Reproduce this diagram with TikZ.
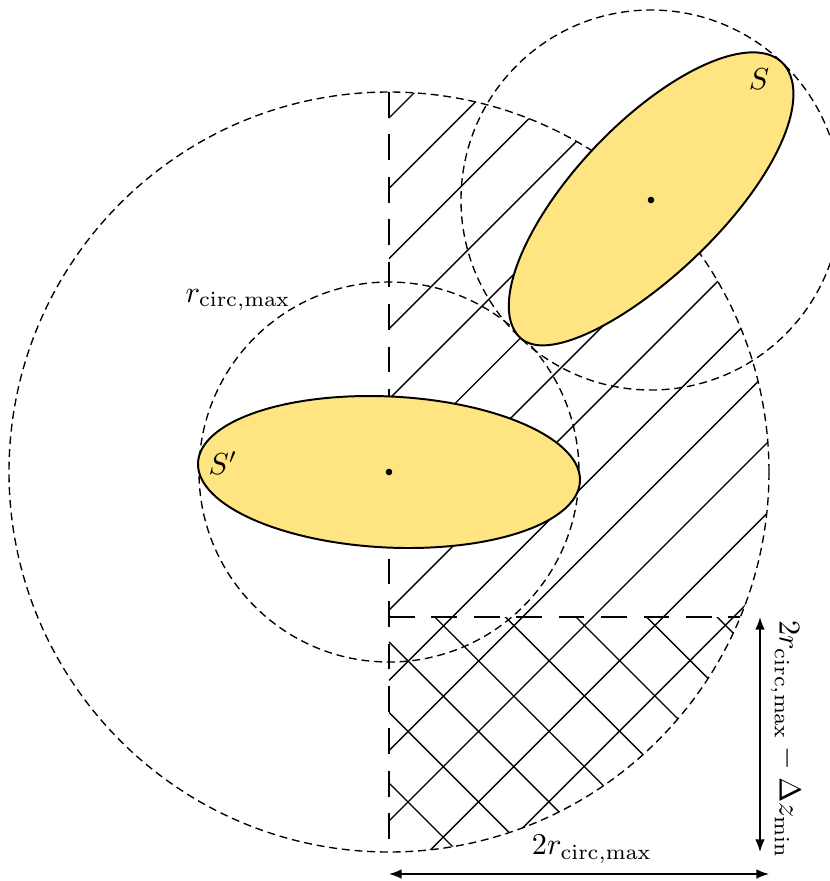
\documentclass[tikz,border=0pt]{standalone}
\usetikzlibrary{arrows.meta}
\definecolor{blobfill}{RGB}{255,228,130}
\begin{document}
\begin{tikzpicture}[x=0.33pt,y=-0.33pt,
  circdash/.style={dash pattern=on 2.6pt off 1.6pt, line width=0.45pt},
  longdash/.style={dash pattern=on 8.5pt off 5.5pt, line width=0.5pt},
  hatchline/.style={line width=0.45pt},
  blob/.style={fill=blobfill, draw=black, line width=0.65pt},
  dim/.style={{Latex[length=4.2pt,width=3.2pt]}-{Latex[length=4.2pt,width=3.2pt]}, line width=0.5pt}]
\useasboundingbox (0,0) rectangle (830,881);
\coordinate (C) at (389,472);
\coordinate (D) at (651,200);
\coordinate (vtop) at (389,92);
\coordinate (vbot) at (389,852);
\coordinate (hl) at (389,617);
\coordinate (hr) at (740.2,617);
% single hatching
\begin{scope}
  \clip (389,0) rectangle (830,881);
  \clip (C) circle[radius=380];
  \foreach \k in {0,...,12}{
    \pgfmathsetmacro{\c}{507+70.3*\k}
    \draw[hatchline] (389,{\c-389}) -- (830,{\c-830});
  }
\end{scope}
% cross hatching
\begin{scope}
  \clip (389,617) rectangle (830,881);
  \clip (C) circle[radius=380];
  \foreach \j in {0,...,7}{
    \pgfmathsetmacro{\d}{394-70.6*\j}
    \draw[hatchline] (389,{389+\d}) -- (830,{830+\d});
  }
\end{scope}
% circles
\draw[circdash] (C) circle[radius=380];
\draw[circdash] (C) circle[radius=190];
\draw[circdash] (D) circle[radius=190];
% long dashed lines
\draw[longdash] (vtop) -- (vbot);
\draw[longdash] (hl) -- (hr);
% blobs
\begin{scope}[shift={(389,472)}]
\draw[blob] plot[domain=0:360, samples=120, smooth cycle] ({190*cos(\x)-19.8*sin(\x)}, {-76*sin(\x)});
\end{scope}
\begin{scope}[shift={(651,200)}, rotate=46.5]
\draw[blob] plot[domain=0:357, samples=120, smooth cycle] ({190*cos(\x)+15*(\x>180)*sin(\x)^2}, {-(77*(\x<=180)+72*(\x>180))*sin(\x)});
\end{scope}
\fill (C) circle[radius=3.3];
\fill (D) circle[radius=3.3];
% labels
\node (Sl) at (759,79) {$S$};
\node (Spl) at (223,463) {$S'$};
\node (rl) at (238,300) {$r_{\mathrm{circ,max}}$};
% dimension arrows
\coordinate (va) at (760,617);
\coordinate (vb) at (760,852);
\draw[dim] (va) -- (vb) node[pos=0.52, anchor=south, rotate=-90] {$2r_{\mathrm{circ,max}}-\Delta z_{\mathrm{min}}$};
\coordinate (ha) at (389,874);
\coordinate (hb) at (769,874);
\draw[dim] (ha) -- (hb) node[pos=0.534, above] {$2r_{\mathrm{circ,max}}$};
\end{tikzpicture}
\end{document}
